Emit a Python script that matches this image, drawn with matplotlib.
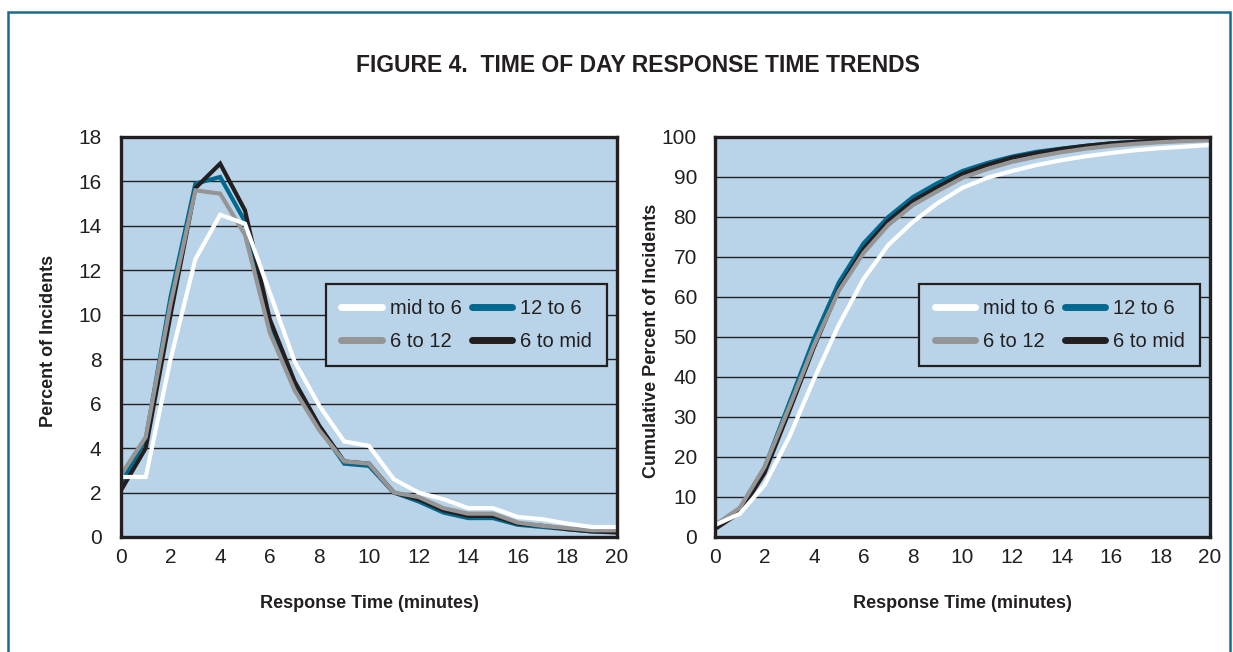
import numpy as np
import matplotlib
matplotlib.use("Agg")
import matplotlib.pyplot as plt
from matplotlib.patches import Rectangle
from matplotlib import font_manager

# =========================
# DATA
# =========================
minutes = list(range(0, 21))

series_names = ["mid to 6", "12 to 6", "6 to 12", "6 to mid"]

pct_mid_to_6 = [2.7, 2.7, 8.0, 12.5, 14.5, 14.1, 11.0, 7.9, 5.9, 4.3, 4.1,
                2.6, 2.0, 1.7, 1.3, 1.3, 0.9, 0.8, 0.6, 0.45, 0.45]
pct_12_to_6 = [2.4, 4.4, 10.8, 15.9, 16.2, 14.2, 9.5, 6.7, 4.9, 3.3, 3.2,
               2.0, 1.6, 1.1, 0.85, 0.85, 0.55, 0.45, 0.35, 0.25, 0.25]
pct_6_to_12 = [2.8, 4.5, 10.5, 15.6, 15.45, 13.6, 9.2, 6.6, 4.8, 3.4, 3.3,
               2.0, 1.8, 1.3, 1.05, 1.05, 0.65, 0.5, 0.4, 0.3, 0.3]
pct_6_to_mid = [2.1, 4.0, 10.0, 15.7, 16.8, 14.7, 9.8, 7.0, 5.0, 3.4, 3.3,
                2.0, 1.7, 1.2, 0.95, 0.95, 0.6, 0.5, 0.35, 0.25, 0.2]

cum_mid_to_6 = [3.0, 5.8, 13.0, 25.0, 39.5, 53.0, 64.5, 73.0, 78.8, 83.5, 87.3,
                89.8, 91.5, 93.0, 94.2, 95.2, 96.0, 96.7, 97.2, 97.6, 98.0]
cum_12_to_6 = [2.4, 7.0, 17.3, 33.5, 49.6, 63.6, 73.4, 80.0, 85.0, 88.5, 91.5,
               93.5, 95.1, 96.3, 97.1, 97.8, 98.4, 98.8, 99.1, 99.4, 99.6]
cum_6_to_12 = [3.0, 7.3, 17.5, 32.5, 48.0, 61.5, 71.0, 78.0, 83.0, 86.5, 89.8,
               92.0, 93.8, 95.1, 96.2, 97.1, 97.8, 98.3, 98.7, 99.0, 99.2]
cum_6_to_mid = [2.0, 6.1, 16.0, 31.5, 47.5, 62.0, 72.0, 79.0, 84.0, 87.5, 90.8,
                93.0, 94.8, 96.0, 97.0, 97.8, 98.4, 98.8, 99.1, 99.3, 99.5]

x_ticks = list(range(0, 21, 2))
left_y_ticks = list(range(0, 19, 2))
right_y_ticks = list(range(0, 101, 10))

# =========================
# STYLE
# =========================
installed = {f.name for f in font_manager.fontManager.ttflist}
narrow = "Liberation Sans Narrow" if "Liberation Sans Narrow" in installed else "Liberation Sans"

INK = "#231f20"
BG = "#b9d4e9"
TEAL = "#00698f"
GRAY = "#959595"
colors = {"mid to 6": "white", "12 to 6": TEAL, "6 to 12": GRAY, "6 to mid": INK}

plt.rcParams["font.family"] = ["Liberation Sans", "DejaVu Sans"]

fig = plt.figure(figsize=(12.33, 6.52), dpi=100)

# outer teal frame (bottom edge runs off the page)
fig.patches.append(Rectangle((0.0065, -0.05), 0.9911, 1.0316, transform=fig.transFigure,
                             fill=False, edgecolor="#1b6b8c", linewidth=1.8))

fig.text(0.517, 0.900, "FIGURE 4.  TIME OF DAY RESPONSE TIME TRENDS", ha="center", va="center",
         fontsize=16.5, family=narrow, fontweight="bold", color=INK)

ax1 = fig.add_axes([0.0981, 0.1764, 0.4023, 0.6135])
ax2 = fig.add_axes([0.5799, 0.1764, 0.4015, 0.6135])


def style_axes(ax, yticks, ylabel, ylab_x, ypad):
    ax.set_facecolor(BG)
    ax.set_xlim(0, 20)
    ax.set_ylim(yticks[0], yticks[-1])
    ax.set_xticks(x_ticks)
    ax.set_yticks(yticks)
    ax.tick_params(length=0, labelsize=15, labelcolor=INK)
    ax.tick_params(axis="y", pad=ypad)
    ax.tick_params(axis="x", pad=8)
    ax.grid(axis="y", color=INK, linewidth=1.0)
    ax.set_axisbelow(True)
    for sp in ax.spines.values():
        sp.set_color(INK)
        sp.set_linewidth(2.4)
    ax.set_xlabel("Response Time (minutes)", fontsize=13, family=narrow,
                  fontweight="bold", color=INK)
    ax.xaxis.set_label_coords(0.5, -0.145)
    ax.set_ylabel(ylabel, fontsize=13, family=narrow, fontweight="bold", color=INK)
    ax.yaxis.set_label_coords(ylab_x, 0.49)


left_data = {"mid to 6": pct_mid_to_6, "12 to 6": pct_12_to_6,
             "6 to 12": pct_6_to_12, "6 to mid": pct_6_to_mid}
right_data = {"mid to 6": cum_mid_to_6, "12 to 6": cum_12_to_6,
              "6 to 12": cum_6_to_12, "6 to mid": cum_6_to_mid}

draw_order = ["12 to 6", "6 to mid", "6 to 12", "mid to 6"]
legend_order = ["mid to 6", "6 to 12", "12 to 6", "6 to mid"]

for ax, data in [(ax1, left_data), (ax2, right_data)]:
    lines = {}
    for name in draw_order:
        (ln,) = ax.plot(minutes, data[name], color=colors[name], linewidth=3.0,
                        label=name, solid_joinstyle="miter", clip_on=True)
        lines[name] = ln
    leg = ax.legend([lines[n] for n in legend_order], legend_order, ncol=2,
                    loc="center right", bbox_to_anchor=(0.98, 0.53), borderaxespad=0,
                    fontsize=14.5, frameon=True, fancybox=False, facecolor=BG,
                    framealpha=1, edgecolor=INK, handlelength=2.0, handletextpad=0.4,
                    columnspacing=0.5, labelspacing=0.7, borderpad=0.75)
    leg.get_frame().set_linewidth(1.6)
    for h in leg.legend_handles:
        h.set_linewidth(5)
        h.set_solid_capstyle("round")
    for t in leg.get_texts():
        t.set_color(INK)

style_axes(ax1, left_y_ticks, "Percent of Incidents", -0.129, 14)
style_axes(ax2, right_y_ticks, "Cumulative Percent of Incidents", -0.111, 13)

fig.savefig("out.png", dpi=100)
